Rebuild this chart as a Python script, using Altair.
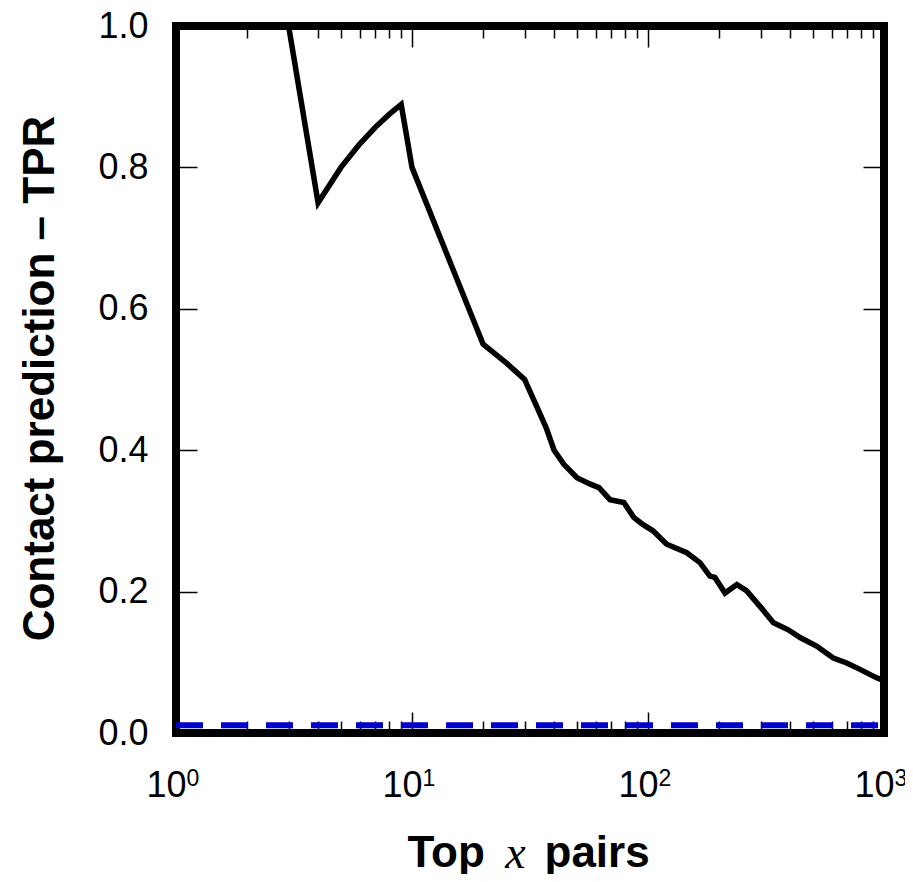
import altair as alt
import pandas as pd

# ---- data ----
x_pairs = [1, 2, 3, 4, 5, 6, 7, 8, 9, 10, 20, 25, 30, 37, 40, 44, 50, 57, 62, 69,
           79, 87, 95, 105, 120, 146, 166, 183, 192, 212, 238, 262, 300, 340, 393,
           441, 518, 610, 695, 791, 931, 1000]
tpr = [1.0, 1.0, 1.0, 0.75, 0.8, 0.833, 0.857, 0.875, 0.889, 0.8, 0.55, 0.524, 0.5,
       0.432, 0.4, 0.38, 0.361, 0.352, 0.347, 0.33, 0.326, 0.305, 0.295, 0.286, 0.267,
       0.255, 0.241, 0.222, 0.22, 0.198, 0.21, 0.201, 0.178, 0.156, 0.146, 0.135,
       0.123, 0.106, 0.099, 0.09, 0.078, 0.074]

baseline_x = [1, 1000]
baseline_y = [0.011, 0.011]

major_x = [1, 10, 100, 1000]
minor_x = [2, 3, 4, 5, 6, 7, 8, 9, 20, 30, 40, 50, 60, 70, 80, 90,
           200, 300, 400, 500, 600, 700, 800, 900]
y_ticks = [0.0, 0.2, 0.4, 0.6, 0.8, 1.0]

main_df = pd.DataFrame({"x": x_pairs, "tpr": tpr})
base_df = pd.DataFrame({"x": baseline_x, "tpr": baseline_y})
major_df = pd.DataFrame({"x": major_x})
minor_df = pd.DataFrame({"x": minor_x})

W, H = 708, 707
xscale = alt.Scale(type="log", domain=[1, 1000])
yscale = alt.Scale(domain=[0, 1])

main = alt.Chart(main_df).mark_line(color="black", strokeWidth=5.5).encode(
    x=alt.X("x:Q", scale=xscale, axis=alt.Axis(
        orient="bottom", values=major_x, offset=-21, tickSize=21, domain=False,
        labelExpr='"10"', labelAlign="right", labelOffset=10, labelPadding=35,
        labelFlush=False, grid=False,
        title="Top", titleX=231, titleY=154, titleAlign="left",
        titleBaseline="alphabetic")),
    y=alt.Y("tpr:Q", scale=yscale, axis=alt.Axis(
        orient="left", values=y_ticks, format=".1f", offset=-21, tickSize=21,
        domain=False, labelPadding=28, grid=False,
        title="Contact prediction – TPR", titleX=-144, titleY=352,
        titleAngle=270, titleAlign="center", titleBaseline="alphabetic")),
)

base = alt.Chart(base_df).mark_line(color="#0000cc", strokeWidth=6,
                                    strokeDash=[27, 18]).encode(
    x=alt.X("x:Q", scale=xscale, axis=alt.Axis(
        orient="top", values=major_x, offset=-21, tickSize=21, domain=False,
        labels=False, grid=False, title=None)),
    y=alt.Y("tpr:Q", scale=yscale, axis=alt.Axis(
        orient="right", values=y_ticks, offset=-21, tickSize=21, domain=False,
        labels=False, grid=False, title=None)),
)

expo = alt.Chart(major_df).mark_rule(opacity=0).encode(
    x=alt.X("x:Q", scale=xscale, axis=alt.Axis(
        orient="bottom", values=major_x, ticks=False, domain=False,
        labelExpr="'' + round(log(datum.value) / LN10)", labelFontSize=23,
        labelAlign="left", labelOffset=10, labelPadding=34, labelFlush=False,
        grid=False,
        title="x", titleFont="Liberation Serif", titleFontStyle="italic",
        titleFontWeight="normal", titleFontSize=46, titleX=339, titleY=134,
        titleAlign="center", titleBaseline="alphabetic")),
)

minor_bottom = alt.Chart(minor_df).mark_rule(opacity=0).encode(
    x=alt.X("x:Q", scale=xscale, axis=alt.Axis(
        orient="bottom", values=minor_x, offset=-12, tickSize=12, domain=False,
        labels=False, grid=False,
        title="pairs", titleX=368, titleY=145, titleAlign="left",
        titleBaseline="alphabetic")),
)

minor_top = alt.Chart(minor_df).mark_rule(opacity=0).encode(
    x=alt.X("x:Q", scale=xscale, axis=alt.Axis(
        orient="top", values=minor_x, offset=-12, tickSize=12, domain=False,
        labels=False, grid=False, title=None)),
)

chart = alt.layer(main, base, expo, minor_bottom, minor_top).resolve_axis(
    x="independent", y="independent"
).properties(
    width=W, height=H,
    autosize=alt.AutoSizeParams(type="none"),
    padding={"left": 168, "top": 18, "right": 21, "bottom": 141},
    background="white",
).configure_view(
    stroke="black", strokeWidth=8
).configure_axis(
    labelFont="Liberation Sans", titleFont="Liberation Sans",
    labelFontSize=36, titleFontSize=44, titleFontWeight="bold",
    labelColor="black", titleColor="black", tickColor="black", tickWidth=1.5,
)

chart.save("out.html", embed_options={"renderer": "svg", "actions": False})
